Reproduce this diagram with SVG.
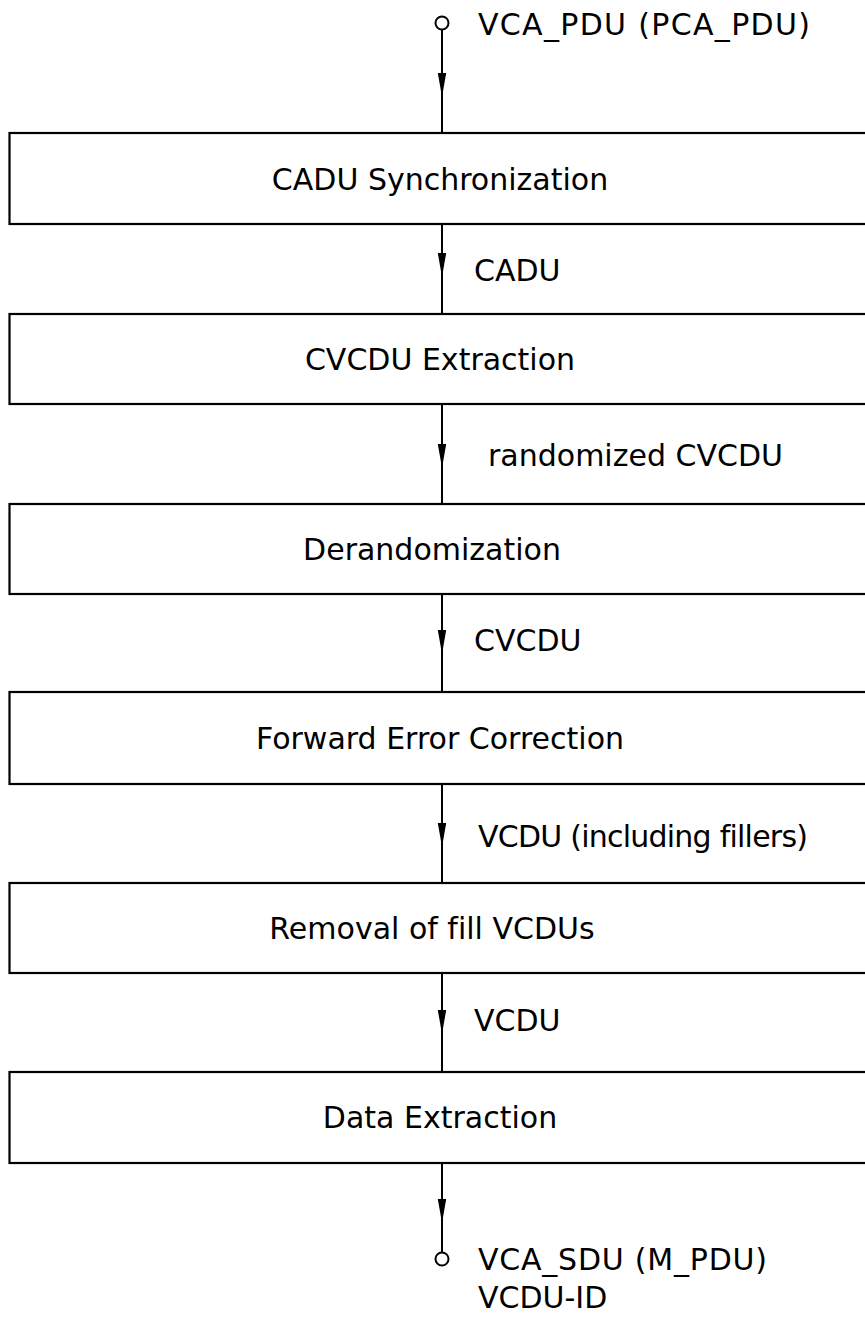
<svg xmlns="http://www.w3.org/2000/svg" width="865" height="1330" viewBox="0 0 865 1330">
<style>
.box{fill:#fff;stroke:#000;stroke-width:2.2}
.lbl{font-family:"DejaVu Sans",sans-serif;font-size:30px;fill:#000;font-variant-ligatures:none}
.ctr{text-anchor:middle}
.conn{fill:none;stroke:#000;stroke-width:2}
.term{fill:#fff;stroke:#000;stroke-width:2}
</style>
<defs>
<marker id="arr" markerUnits="userSpaceOnUse" markerWidth="26" markerHeight="10" refX="24" refY="5" orient="auto" viewBox="0 0 26 10">
<path d="M0,0.8 L24,5 L0,9.2 z" fill="#000"/>
</marker>
</defs>
<rect width="865" height="1330" fill="#fff"/>
<g id="connectors">
<path class="conn" d="M442,30 L442,97 L442,133" marker-mid="url(#arr)"/>
<path class="conn" d="M442,224 L442,277 L442,314" marker-mid="url(#arr)"/>
<path class="conn" d="M442,404 L442,468 L442,504" marker-mid="url(#arr)"/>
<path class="conn" d="M442,594 L442,654 L442,692" marker-mid="url(#arr)"/>
<path class="conn" d="M442,784 L442,847 L442,883" marker-mid="url(#arr)"/>
<path class="conn" d="M442,973 L442,1034 L442,1072" marker-mid="url(#arr)"/>
<path class="conn" d="M442,1163 L442,1223 L442,1252" marker-mid="url(#arr)"/>
<text class="lbl" x="474" y="281">CADU</text>
<text class="lbl" x="488" y="466" textLength="295">randomized CVCDU</text>
<text class="lbl" x="474" y="651">CVCDU</text>
<text class="lbl" x="478" y="847" textLength="330">VCDU (including fillers)</text>
<text class="lbl" x="474" y="1031">VCDU</text>
</g>
<g id="input">
<circle class="term" cx="442" cy="23" r="6.5"/>
<text class="lbl" x="478" y="35" textLength="332">VCA_PDU (PCA_PDU)</text>
</g>
<g id="cadu-sync">
<rect class="box" x="9.5" y="133" width="870" height="91"/>
<text class="lbl ctr" x="440" y="190">CADU Synchronization</text>
</g>
<g id="cvcdu-extraction">
<rect class="box" x="9.5" y="314" width="870" height="90"/>
<text class="lbl ctr" x="440" y="370">CVCDU Extraction</text>
</g>
<g id="derandomization">
<rect class="box" x="9.5" y="504" width="870" height="90"/>
<text class="lbl ctr" x="432" y="560">Derandomization</text>
</g>
<g id="fec">
<rect class="box" x="9.5" y="692" width="870" height="92"/>
<text class="lbl ctr" x="440" y="749">Forward Error Correction</text>
</g>
<g id="removal">
<rect class="box" x="9.5" y="883" width="870" height="90"/>
<text class="lbl ctr" x="432" y="939">Removal of fill VCDUs</text>
</g>
<g id="data-extraction">
<rect class="box" x="9.5" y="1072" width="870" height="91"/>
<text class="lbl ctr" x="440" y="1128">Data Extraction</text>
</g>
<g id="output">
<circle class="term" cx="442" cy="1259" r="6.5"/>
<text class="lbl" x="478" y="1270" textLength="289">VCA_SDU (M_PDU)</text>
<text class="lbl" x="478" y="1308">VCDU-ID</text>
</g>
</svg>
